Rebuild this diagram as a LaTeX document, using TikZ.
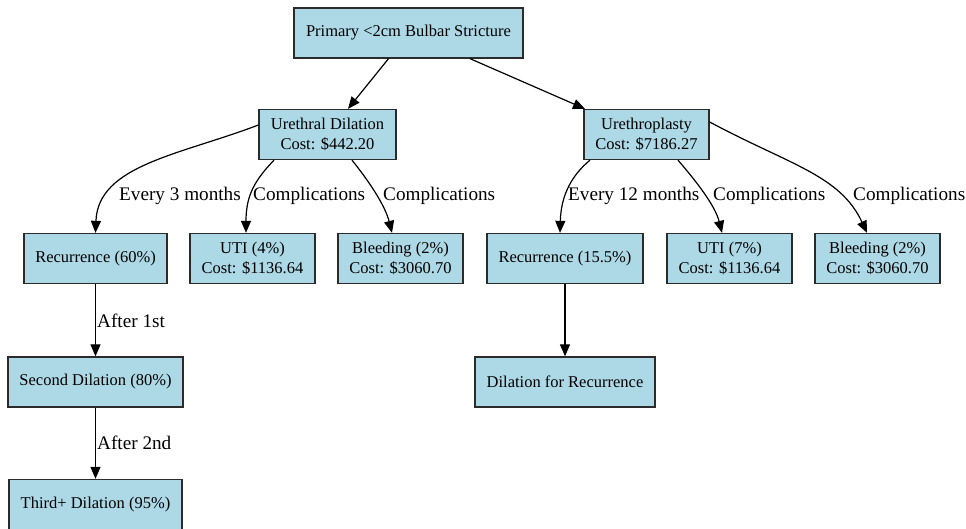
\documentclass[tikz,border=0pt]{standalone}
\usepackage{fontspec}
\setmainfont{Liberation Serif}
\usepackage{xcolor}
\usepackage{tikz}
\usetikzlibrary{arrows.meta}
\definecolor{boxblue}{HTML}{ADD8E6}
\definecolor{boxline}{HTML}{2B2B2B}

\begin{document}
\begin{tikzpicture}[x=1pt,y=-1pt,
    box/.style={rectangle, draw=boxline, fill=boxblue, line width=1.3pt, inner sep=0pt,
        minimum height=50pt, align=center, font=\fontsize{16.5}{20}\selectfont},
    elabel/.style={anchor=west, inner sep=0pt, font=\fontsize{19.2}{22}\selectfont},
    link/.style={draw=black, line width=1.2pt, -{Triangle[length=12pt,width=10pt]}}]
    \useasboundingbox (0,0) rectangle (966,529);
    % Nodes
    \node[box, minimum width=229pt] (P) at (408.5,33) {Primary <2cm Bulbar Stricture};
    \node[box, minimum width=137pt] (UD) at (327.5,134.5) {Urethral Dilation\\Cost: \$442.20};
    \node[box, minimum width=125pt] (UP) at (646.5,134.5) {Urethroplasty\\Cost: \$7186.27};
    \node[box, minimum width=143pt] (R1) at (95.5,258.5) {Recurrence (60\%)};
    \node[box, minimum width=125pt] (U1) at (252.5,258.5) {UTI (4\%)\\Cost: \$1136.64};
    \node[box, minimum width=125pt] (B1) at (400.5,258.5) {Bleeding (2\%)\\Cost: \$3060.70};
    \node[box, minimum width=156pt] (R2) at (565,258.5) {Recurrence (15.5\%)};
    \node[box, minimum width=125pt] (U2) at (729.5,258.5) {UTI (7\%)\\Cost: \$1136.64};
    \node[box, minimum width=125pt] (B2) at (877.5,258.5) {Bleeding (2\%)\\Cost: \$3060.70};
    \node[box, minimum width=175pt] (D2) at (95.5,382) {Second Dilation (80\%)};
    \node[box, minimum width=173pt] (D3) at (95.5,504.5) {Third+ Dilation (95\%)};
    \node[box, minimum width=180pt] (DR) at (565,382) {Dilation for Recurrence};

    % Labels
    \node[elabel] (l1) at (119,196) {Every 3 months};
    \node[elabel] (l2) at (253,196) {Complications};
    \node[elabel] (l3) at (383,196) {Complications};
    \node[elabel] (l4) at (568,196) {Every 12 months};
    \node[elabel] (l5) at (713,196) {Complications};
    \node[elabel] (l6) at (853,196) {Complications};
    \node[elabel] (l7) at (97,321) {After 1st};
    \node[elabel] (l8) at (97,443) {After 2nd};

    % Edges
    \path[link]
        ([xshift=-20pt]P.south) -- ([xshift=20.5pt]UD.north);
    \path[link]
        ([xshift=61.5pt]P.south) -- ([xshift=-61.5pt]UP.north);
    \path[link]
        ([yshift=9.5pt]UD.west) .. controls (180,155) and (98,165) .. (R1.north);
    \path[link]
        ([xshift=-53.5pt]UD.south) .. controls (255,180) and (246,195) .. ([xshift=-6.5pt]U1.north);
    \path[link]
        ([xshift=24.5pt]UD.south) .. controls (368,180) and (385,205) .. ([xshift=-8.5pt]B1.north);
    \path[link]
        ([xshift=-56.5pt]UP.south) .. controls (572,175) and (561,195) .. ([xshift=-5pt]R2.north);
    \path[link]
        ([xshift=31.5pt]UP.south) .. controls (695,180) and (715,205) .. ([xshift=-7.5pt]U2.north);
    \path[link]
        ([yshift=12.5pt]UP.east) .. controls (790,165) and (840,175) .. ([xshift=-10.5pt]B2.north);
    \path[link]
        (R1) -- (D2);
    \path[link]
        (D2) -- (D3);
    \path[link]
        (R2) -- (DR);
\end{tikzpicture}
\end{document}
